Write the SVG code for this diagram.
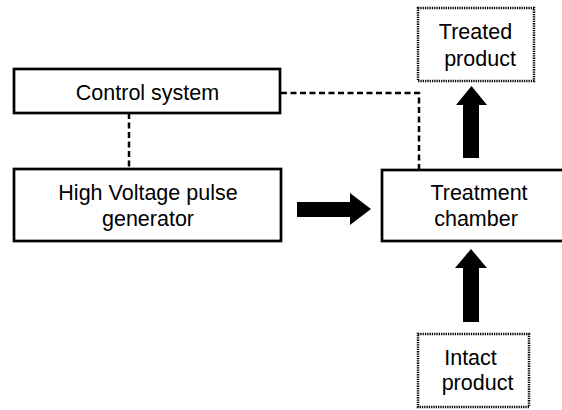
<svg xmlns="http://www.w3.org/2000/svg" width="562" height="410" viewBox="0 0 562 410">
<style>
.box{fill:#fff;stroke:#000;stroke-width:2.7}
.dot{fill:#fff;stroke:#000;stroke-width:2.5;stroke-dasharray:1.3 1}
.dash{fill:none;stroke:#000;stroke-width:2.5;stroke-dasharray:6 3.5}
.t{font-family:"Liberation Sans",Arial,sans-serif;font-size:21.5px;fill:#000;text-anchor:middle}
.arr{fill:#000}
</style>
<rect width="562" height="410" fill="#fff"/>
<g id="connectors">
<path class="dash" d="M129 113 V168"/>
<path class="dash" d="M281 93 H419 V170"/>
<polygon class="arr" points="297,202 350,202 350,193 371,209 350,225 350,217 297,217"/>
<polygon class="arr" points="463,158 463,105 456,105 471.5,86 487,105 479,105 479,158"/>
<polygon class="arr" points="463,322 463,268 455,268 471,249 487,268 479,268 479,322"/>
</g>
<g id="control">
<rect class="box" x="14" y="69" width="266" height="44"/>
<text class="t" x="147.5" y="100">Control system</text>
</g>
<g id="hv">
<rect class="box" x="14" y="169" width="267" height="72"/>
<text class="t" x="148" y="200">High Voltage pulse</text>
<text class="t" x="148" y="226">generator</text>
</g>
<g id="chamber">
<rect class="box" x="382" y="170" width="192" height="71"/>
<text class="t" x="479" y="200">Treatment</text>
<text class="t" x="476" y="226">chamber</text>
</g>
<g id="treated">
<rect class="dot" x="418" y="8" width="116" height="73"/>
<text class="t" x="475.5" y="39">Treated</text>
<text class="t" x="480" y="66">product</text>
</g>
<g id="intact">
<rect class="dot" x="418" y="334" width="111" height="73"/>
<text class="t" x="470.5" y="365">Intact</text>
<text class="t" x="477.5" y="390">product</text>
</g>
</svg>
